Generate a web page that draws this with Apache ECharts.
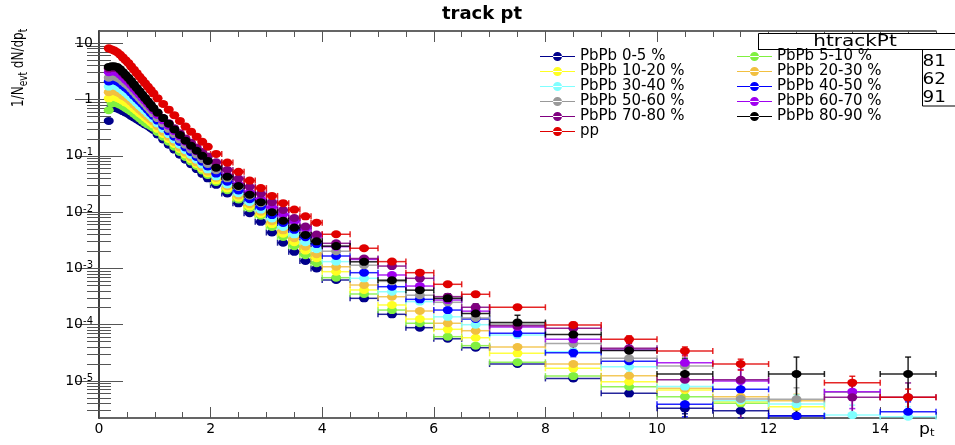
<!DOCTYPE html>
<html><head><meta charset="utf-8">
<script src="https://cdn.jsdelivr.net/npm/echarts@6/dist/echarts.min.js"></script>
<style>html,body{margin:0;padding:0;background:#fff}#c{width:955px;height:445px}</style>
</head><body><div id="c"></div>
<script>
// ---- bins (pT edges) ----
const ptEdges = [0.15,0.2,0.25,0.3,0.35,0.4,0.45,0.5,0.55,0.6,0.65,0.7,0.75,0.8,0.85,0.9,0.95,1.0,
  1.1,1.2,1.3,1.4,1.5,1.6,1.7,1.8,1.9,2.0,
  2.2,2.4,2.6,2.8,3.0,3.2,3.4,3.6,3.8,4.0,
  4.5,5.0,5.5,6.0,6.5,7.0,
  8,9,10,11,12,13,14,15];

const seriesNames = ['PbPb 0-5 %','PbPb 5-10 %','PbPb 10-20 %','PbPb 20-30 %','PbPb 30-40 %','PbPb 40-50 %',
  'PbPb 50-60 %','PbPb 60-70 %','PbPb 70-80 %','PbPb 80-90 %','pp'];
const seriesColors = ['#00008b','#80f040','#ffff22','#f2c040','#80ffff','#0000ff',
  '#999999','#a000f0','#800080','#000000','#e00000'];

// ---- values 1/Nevt dN/dpt per bin ----
const v_0_5 = [0.417,0.724,0.708,0.692,0.661,0.624,0.589,0.556,0.513,0.479,0.447,0.417,0.389,0.363,0.339,0.313,0.288,
  0.240,0.195,0.158,0.129,0.105,0.0851,0.0708,0.0582,0.0479,0.0398,
  0.0305,0.0214,0.0143,0.00955,0.00671,0.00434,0.00286,0.00197,0.00136,0.00100,
  6.22e-4,2.94e-4,1.53e-4,8.85e-5,5.62e-5,3.90e-5,
  2.00e-5,1.11e-5,6.04e-6,3.27e-6,2.96e-6,2.40e-6,null,null];
const v_5_10 = [0.646,0.851,0.891,0.851,0.813,0.759,0.708,0.661,0.617,0.562,0.513,0.468,0.427,0.389,0.363,0.339,0.316,
  0.266,0.219,0.178,0.145,0.117,0.0955,0.0794,0.0661,0.0550,0.0457,
  0.0343,0.0245,0.0168,0.0117,0.00865,0.00546,0.00361,0.00248,0.00172,0.00124,
  6.84e-4,3.51e-4,1.82e-4,1.06e-4,6.12e-5,4.24e-5,
  2.15e-5,1.22e-5,7.91e-6,5.26e-6,4.01e-6,null,null,null];
const v_10_20 = [1.05,1.12,1.12,1.07,1.02,0.955,0.891,0.832,0.759,0.692,0.631,0.575,0.525,0.479,0.437,0.398,0.363,
  0.302,0.245,0.200,0.162,0.132,0.106,0.0871,0.0716,0.0589,0.0490,
  0.0367,0.0263,0.0180,0.0126,0.00927,0.00612,0.00414,0.00292,0.00207,0.00152,
  8.75e-4,4.14e-4,2.24e-4,1.26e-4,8.28e-5,5.87e-5,
  3.10e-5,1.68e-5,9.70e-6,6.92e-6,4.29e-6,3.49e-6,null,null];
const v_20_30 = [1.35,1.41,1.41,1.35,1.29,1.17,1.10,1.01,0.912,0.822,0.741,0.668,0.603,0.543,0.490,0.447,0.407,
  0.335,0.269,0.219,0.176,0.141,0.114,0.0933,0.0767,0.0631,0.0525,
  0.0403,0.0288,0.0197,0.0138,0.0102,0.00687,0.00475,0.00343,0.00243,0.00179,
  1.07e-3,5.07e-4,3.14e-4,1.75e-4,1.06e-4,7.82e-5,
  4.02e-5,2.00e-5,1.24e-5,7.41e-6,5.25e-6,4.47e-6,null,null];
const v_30_40 = [1.70,1.78,1.78,1.70,1.58,1.45,1.32,1.20,1.08,0.977,0.871,0.776,0.700,0.631,0.569,0.513,0.457,
  0.376,0.302,0.243,0.195,0.157,0.126,0.104,0.0851,0.0700,0.0575,
  0.0432,0.0309,0.0216,0.0151,0.0111,0.00771,0.00546,0.00403,0.00292,0.00220,
  1.32e-3,6.67e-4,3.85e-4,2.57e-4,1.38e-4,1.00e-4,
  6.56e-5,3.31e-5,1.79e-5,7.94e-6,4.47e-6,3.89e-6,2.48e-6,2.32e-6];
const v_40_50 = [2.09,2.19,2.19,2.09,1.95,1.78,1.62,1.48,1.32,1.17,1.05,0.933,0.832,0.741,0.653,0.575,0.513,
  0.422,0.339,0.272,0.219,0.176,0.141,0.116,0.0955,0.0785,0.0646,
  0.0484,0.0347,0.0243,0.0170,0.0125,0.00885,0.00641,0.00484,0.00359,0.00270,
  1.66e-3,8.39e-4,4.73e-4,2.82e-4,1.82e-4,1.26e-4,
  7.03e-5,3.18e-5,2.24e-5,3.85e-6,7.11e-6,2.38e-6,null,2.84e-6];
const v_50_60 = [2.45,2.57,2.57,2.45,2.29,2.09,1.91,1.74,1.55,1.36,1.20,1.06,0.933,0.832,0.733,0.646,0.569,
  0.468,0.376,0.302,0.243,0.195,0.157,0.129,0.106,0.0871,0.0716,
  0.0556,0.0398,0.0279,0.0195,0.0144,0.0102,0.00736,0.00556,0.00422,0.00325,
  2.02e-3,1.14e-3,5.89e-4,3.34e-4,2.50e-4,1.32e-4,
  1.02e-4,4.62e-5,2.53e-5,1.85e-5,4.79e-6,4.73e-6,6.31e-6,null];
const v_60_70 = [3.05,3.16,3.16,3.02,2.79,2.51,2.26,2.04,1.80,1.58,1.40,1.23,1.08,0.955,0.841,0.741,0.646,
  0.531,0.427,0.343,0.275,0.221,0.178,0.146,0.120,0.0989,0.0813,
  0.0624,0.0447,0.0313,0.0224,0.0169,0.0122,0.00906,0.00684,0.00507,0.00382,
  2.43e-3,1.44e-3,7.64e-4,4.86e-4,2.74e-4,1.74e-4,
  9.10e-5,5.50e-5,3.55e-5,2.10e-5,1.00e-5,null,6.46e-6,null];
const v_70_80 = [3.55,3.63,3.63,3.63,3.31,2.95,2.63,2.34,2.04,1.78,1.58,1.38,1.20,1.05,0.912,0.794,0.692,
  0.575,0.468,0.380,0.309,0.251,0.204,0.170,0.141,0.117,0.0977,
  0.0767,0.0562,0.0394,0.0282,0.0212,0.0150,0.0109,0.00785,0.00556,0.00400,
  2.79e-3,1.50e-3,1.10e-3,6.67e-4,3.15e-4,2.04e-4,
  9.53e-5,8.61e-5,3.80e-5,1.05e-5,1.05e-5,null,5.13e-6,5.13e-6];
const v_80_90 = [3.80,3.89,3.89,3.80,3.47,3.09,2.75,2.45,2.14,1.86,1.62,1.41,1.23,1.07,0.933,0.813,0.708,
  0.589,0.468,0.372,0.295,0.234,0.186,0.151,0.123,0.100,0.0813,
  0.0617,0.0427,0.0292,0.0204,0.0150,0.00993,0.00703,0.00531,0.00394,0.00303,
  2.49e-3,1.31e-3,6.17e-4,4.11e-4,2.94e-4,1.58e-4,
  1.09e-4,6.68e-5,3.47e-5,1.33e-5,null,1.33e-5,null,1.33e-5];
const v_pp = [8.13,7.76,7.41,6.92,6.31,5.62,5.01,4.47,3.89,3.39,2.95,2.57,2.24,1.95,1.70,1.48,1.29,
  1.05,0.832,0.661,0.525,0.417,0.331,0.269,0.219,0.178,0.145,
  0.108,0.0759,0.0519,0.0363,0.0267,0.0194,0.0144,0.0111,0.00841,0.00649,
  4.04e-3,2.28e-3,1.32e-3,8.39e-4,5.22e-4,3.47e-4,
  2.04e-4,9.89e-5,5.50e-5,3.41e-5,2.00e-5,null,9.33e-6,5.13e-6];

// ---- relative statistical errors for the high-pT bins (bin index 37 .. 50) ----
const errFirstBin = 37;
const err_0_5   = [0.02,0.03,0.04,0.05,0.06,0.07,0.08,0.10,0.12,0.20,0.25,0.30,0,0];
const err_5_10  = [0.02,0.03,0.04,0.05,0.06,0.07,0.08,0.10,0.12,0.20,0.25,0.30,0,0];
const err_10_20 = [0.02,0.03,0.04,0.05,0.06,0.07,0.08,0.10,0.12,0.20,0.25,0.30,0,0];
const err_20_30 = [0.02,0.03,0.04,0.05,0.06,0.07,0.08,0.10,0.12,0.20,0.25,0.30,0,0];
const err_30_40 = [0.03,0.04,0.05,0.06,0.08,0.10,0.12,0.15,0.20,0.35,0.40,0.45,0.50,0.50];
const err_40_50 = [0.03,0.04,0.05,0.06,0.08,0.10,0.12,0.15,0.20,0.40,0.40,0.50,0,0.50];
const err_50_60 = [0.05,0.06,0.08,0.10,0.12,0.15,0.20,0.25,0.30,0.40,0.60,0.60,0.60,0];
const err_60_70 = [0.05,0.06,0.08,0.10,0.12,0.15,0.20,0.25,0.30,0.40,0.60,0,0.50,0];
const err_70_80 = [0.05,0.06,0.08,0.10,0.12,0.15,0.20,0.25,0.30,0.70,0.90,0,0.60,0.80];
const err_80_90 = [0.08,0.10,0.12,0.15,0.20,0.45,0.35,0.50,0.50,0.85,0,1.00,0,1.00];
const err_pp    = [0.03,0.04,0.05,0.06,0.08,0.10,0.10,0.12,0.15,0.18,0.22,0,0.30,0.40];

const seriesValues = [v_0_5,v_5_10,v_10_20,v_20_30,v_30_40,v_40_50,v_50_60,v_60_70,v_70_80,v_80_90,v_pp];
const seriesErrors = [err_0_5,err_5_10,err_10_20,err_20_30,err_30_40,err_40_50,err_50_60,err_60_70,err_70_80,err_80_90,err_pp];

// ---- axis ticks / labels ----
const xTickValues = [0,2,4,6,8,10,12,14];
const xMinorStep = 0.5;
const xMin = 0, xMax = 15;
const yTickValues = [1e-5,1e-4,1e-3,1e-2,1e-1,1,10];
const yMinorMultipliers = [2,3,4,5,6,7,8,9];
const yMin = 2.2e-6, yMax = 16.5;

const FONT = 'DejaVu Sans';

const yMinorTicks = [];
[1e-6].concat(yTickValues).forEach(d => yMinorMultipliers.forEach(m => {
  const v = d * m; if (v > yMin && v < yMax) yMinorTicks.push(v);
}));

function renderErrorBars(params, api) {
  const xc = api.value(0), yv = api.value(1), xl = api.value(2), xh = api.value(3), yl = api.value(4), yh = api.value(5);
  const cs = params.coordSys;
  const c = api.coord([xc, yv]);
  const pl = api.coord([xl, yv]);
  const ph = api.coord([xh, yv]);
  const col = api.visual('color');
  const st = () => ({stroke: col, lineWidth: 1.5, opacity: 0.85});
  const cap = 3;
  const kids = [
    {type: 'line', shape: {x1: pl[0], y1: c[1], x2: ph[0], y2: c[1]}, style: st()},
    {type: 'line', shape: {x1: pl[0], y1: c[1] - cap, x2: pl[0], y2: c[1] + cap}, style: st()},
    {type: 'line', shape: {x1: ph[0], y1: c[1] - cap, x2: ph[0], y2: c[1] + cap}, style: st()}
  ];
  if (yh > yv) {
    const top = cs.y, bottom = cs.y + cs.height;
    const yTop = Math.max(api.coord([xc, yh])[1], top);
    const yBot = yl > 0 ? Math.min(api.coord([xc, yl])[1], bottom) : bottom;
    kids.push({type: 'line', shape: {x1: c[0], y1: yTop, x2: c[0], y2: yBot}, style: st()});
    kids.push({type: 'line', shape: {x1: c[0] - cap, y1: yTop, x2: c[0] + cap, y2: yTop}, style: st()});
    if (yBot < bottom) kids.push({type: 'line', shape: {x1: c[0] - cap, y1: yBot, x2: c[0] + cap, y2: yBot}, style: st()});
  }
  return {type: 'group', children: kids};
}

const series = [];
seriesNames.forEach((name, i) => {
  const vals = seriesValues[i], errs = seriesErrors[i];
  const pts = [], bars = [];
  for (let j = 0; j < vals.length; j++) {
    const v = vals[j];
    if (v == null) continue;
    const lo = ptEdges[j], hi = ptEdges[j + 1], xc = (lo + hi) / 2;
    const e = j >= errFirstBin ? errs[j - errFirstBin] : 0;
    pts.push([xc, v]);
    bars.push([xc, v, lo, hi, v * (1 - e), v * (1 + e)]);
  }
  series.push({
    type: 'custom', name: name + ' errors', renderItem: renderErrorBars, data: bars,
    itemStyle: {color: seriesColors[i]}, encode: {x: 0, y: 1}, silent: true, z: 2
  });
  series.push({
    type: 'scatter', name: name, data: pts, symbol: 'circle', symbolSize: [10, 8],
    itemStyle: {color: seriesColors[i], opacity: 1, borderWidth: 0, borderColor: 'transparent'},
    emphasis: {disabled: true}, z: 2, silent: true
  });
});

const legendIcon = 'path://M0 4L35 4L35 5L0 5Z M13 4.5A4.5 4.5 0 1 0 22 4.5A4.5 4.5 0 1 0 13 4.5Z';
function legendCol(names, left) {
  return {
    data: names, orient: 'vertical', left: left, top: 49, padding: 0,
    itemWidth: 35, itemHeight: 9, itemGap: 0, icon: legendIcon, selectedMode: false, z: 13,
    itemStyle: {borderWidth: 0, borderColor: 'transparent'},
    textStyle: {fontFamily: FONT, fontSize: 15, color: '#000', lineHeight: 15}
  };
}

const axisLineStyle = {color: '#333', width: 1.5};
const tickStyle = {color: '#555', width: 1};
function xAx(pos, major, showLabel) {
  const ax = {
    type: 'value', position: pos, min: xMin, max: xMax, gridIndex: 0,
    axisLine: {show: major, onZero: false, lineStyle: axisLineStyle},
    axisTick: {show: true, inside: true, length: major ? 11 : 6, lineStyle: tickStyle},
    axisLabel: {show: showLabel, margin: 4, color: '#000', fontFamily: FONT, fontSize: 14},
    splitLine: {show: false}
  };
  if (major) { ax.axisTick.customValues = xTickValues; ax.axisLabel.customValues = xTickValues; }
  else { ax.interval = xMinorStep; }
  return ax;
}
function yAx(pos, major, showLabel) {
  return {
    type: 'log', logBase: 10, position: pos, min: yMin, max: yMax, gridIndex: 0,
    axisLine: {show: major, lineStyle: axisLineStyle},
    axisTick: {show: true, inside: true, length: major ? 24 : 12, customValues: major ? yTickValues : yMinorTicks, lineStyle: tickStyle},
    axisLabel: {
      show: showLabel, customValues: yTickValues, margin: 6,
      formatter: v => {
        const e = Math.round(Math.log10(v));
        if (e === 0) return '{b|1}';
        if (e === 1) return '{b|10}';
        return '{b|10}{s|' + e + '}';
      },
      rich: {
        b: {fontFamily: FONT, fontSize: 14, color: '#000', lineHeight: 16},
        s: {fontFamily: FONT, fontSize: 10, color: '#000', lineHeight: 10, verticalAlign: 'top'}
      }
    },
    splitLine: {show: false}, minorTick: {show: false}
  };
}

const chart = echarts.init(document.getElementById('c'), null, {renderer: 'canvas'});
chart.setOption({
  animation: false,
  backgroundColor: '#fff',
  textStyle: {fontFamily: FONT},
  title: {
    text: 'track pt', left: 482, top: 5, textAlign: 'center', padding: 0,
    textStyle: {fontFamily: FONT, fontWeight: 'bold', fontSize: 18, color: '#000'}
  },
  grid: {left: 99, top: 31, width: 837, height: 387, containLabel: false, outerBoundsMode: 'none'},
  xAxis: [xAx('bottom', true, true), xAx('bottom', false, false), xAx('top', true, false), xAx('top', false, false)],
  yAxis: [yAx('left', true, true), yAx('left', false, false), yAx('right', true, false), yAx('right', false, false)],
  legend: [
    legendCol(seriesNames.filter((n, i) => i % 2 === 0), 540),
    legendCol(seriesNames.filter((n, i) => i % 2 === 1), 737)
  ],
  series: series,
  graphic: [
    {type: 'rect', z: 10, shape: {x: 758.5, y: 33.5, width: 200, height: 72.5}, style: {fill: '#fff', stroke: '#000', lineWidth: 1}},
    {type: 'line', z: 10, shape: {x1: 758.5, y1: 49.5, x2: 955, y2: 49.5}, style: {stroke: '#000', lineWidth: 1}},
    {type: 'text', z: 10, x: 855, y: 42, scaleX: 1.25, style: {text: 'htrackPt', fontFamily: FONT, fontSize: 16, fill: '#000', align: 'center', verticalAlign: 'middle'}},
    {type: 'text', z: 10, x: 946, y: 62, scaleX: 1.15, style: {text: 'Entries   2511181', fontFamily: FONT, fontSize: 16, fill: '#000', align: 'right', verticalAlign: 'middle'}},
    {type: 'text', z: 10, x: 946, y: 80, scaleX: 1.15, style: {text: 'Mean   1.0162', fontFamily: FONT, fontSize: 16, fill: '#000', align: 'right', verticalAlign: 'middle'}},
    {type: 'text', z: 10, x: 946, y: 98, scaleX: 1.15, style: {text: 'Std Dev   0.7191', fontFamily: FONT, fontSize: 16, fill: '#000', align: 'right', verticalAlign: 'middle'}},
    {type: 'rect', z: 11, shape: {x: 520, y: 50, width: 402.5, height: 100}, style: {fill: '#fff'}},
    {type: 'line', z: 12, shape: {x1: 922.5, y1: 49.5, x2: 922.5, y2: 106}, style: {stroke: '#000', lineWidth: 1}},
    {type: 'text', z: 10, x: 19, y: 107, rotation: Math.PI / 2, scaleY: 1.35,
      style: {text: '{m|1/N}{s|evt}{m| dN/dp}{s|t}', align: 'left', verticalAlign: 'middle',
        rich: {
          m: {fontFamily: FONT, fontSize: 12, fill: '#000', color: '#000', lineHeight: 16},
          s: {fontFamily: FONT, fontSize: 9, fill: '#000', color: '#000', lineHeight: 9, verticalAlign: 'bottom'}
        }}},
    {type: 'text', z: 10, x: 919, y: 430, scaleX: 1.15,
      style: {text: '{m|p}{s|t}', align: 'left', verticalAlign: 'middle',
        rich: {
          m: {fontFamily: FONT, fontSize: 15, fill: '#000', color: '#000', lineHeight: 16},
          s: {fontFamily: FONT, fontSize: 10, fill: '#000', color: '#000', lineHeight: 10, verticalAlign: 'bottom'}
        }}}
  ]
});
</script>
</body></html>
